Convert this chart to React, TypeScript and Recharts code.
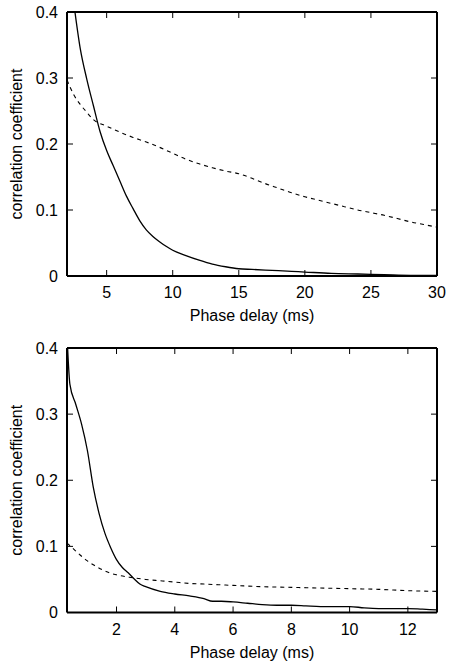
import { Line, LineChart, XAxis, YAxis } from 'recharts'

// upper panel: delays 2..30 ms
const upperSolidDelay = [2, 2.5, 3, 3.5, 4, 4.5, 5, 5.5, 6, 6.5, 7, 7.5, 8, 8.5, 9, 9.5, 10, 11, 12, 13, 14, 15, 16, 17, 18, 19, 20, 22, 24, 26, 28, 30]
const upperSolidCoef = [0.49, 0.415, 0.345, 0.298, 0.258, 0.219, 0.19, 0.167, 0.144, 0.121, 0.102, 0.084, 0.07, 0.06, 0.052, 0.045, 0.039, 0.031, 0.024, 0.018, 0.014, 0.011, 0.01, 0.009, 0.008, 0.007, 0.006, 0.004, 0.003, 0.002, 0.001, 0.001]
const upperDashedDelay = [2, 2.5, 3, 3.5, 4, 5, 6, 7, 8, 9, 10, 11, 12, 13, 14, 15, 16, 17, 18, 19, 20, 21, 22, 23, 24, 25, 26, 27, 28, 29, 30]
const upperDashedCoef = [0.297, 0.275, 0.26, 0.248, 0.237, 0.227, 0.218, 0.21, 0.203, 0.195, 0.186, 0.177, 0.17, 0.164, 0.159, 0.155, 0.148, 0.14, 0.133, 0.126, 0.12, 0.115, 0.11, 0.105, 0.1, 0.096, 0.092, 0.087, 0.082, 0.078, 0.074]
const upperTicks = [5, 10, 15, 20, 25, 30]

// lower panel: delays 0.3..13 ms
const lowerSolidDelay = [0.3, 0.4, 0.6, 0.8, 1, 1.2, 1.4, 1.6, 1.8, 2, 2.2, 2.4, 2.6, 2.8, 3, 3.5, 4, 4.5, 5, 5.3, 5.6, 6, 6.5, 7, 7.5, 8, 8.5, 9, 9.5, 10, 10.5, 11, 11.5, 12, 12.5, 13]
const lowerSolidCoef = [0.42, 0.345, 0.315, 0.285, 0.245, 0.19, 0.15, 0.12, 0.098, 0.08, 0.068, 0.06, 0.051, 0.043, 0.039, 0.032, 0.028, 0.025, 0.021, 0.017, 0.017, 0.016, 0.014, 0.012, 0.011, 0.011, 0.01, 0.009, 0.009, 0.009, 0.007, 0.006, 0.006, 0.006, 0.005, 0.004]
const lowerDashedDelay = [0.3, 0.5, 0.75, 1, 1.25, 1.5, 1.75, 2, 2.5, 3, 3.5, 4, 4.5, 5, 5.5, 6, 7, 8, 9, 10, 11, 12, 13]
const lowerDashedCoef = [0.105, 0.097, 0.087, 0.078, 0.071, 0.065, 0.06, 0.057, 0.053, 0.05, 0.048, 0.046, 0.044, 0.043, 0.042, 0.041, 0.039, 0.038, 0.037, 0.036, 0.035, 0.033, 0.032]
const lowerTicks = [2, 4, 6, 8, 10, 12]

const coefTicks = [0, 0.1, 0.2, 0.3, 0.4]

const font = '"Liberation Sans", Arial, sans-serif'

const zip = (xs: number[], ys: number[]) => xs.map((x, i) => ({ x, y: ys[i] }))

function YTitle(props: any) {
  const vb = props.viewBox
  const x = vb.x + 21.5
  const y = vb.y + vb.height / 2
  return (
    <text x={x} y={y} transform={`rotate(-90 ${x} ${y})`} textAnchor="middle" fontSize={16} fontFamily={font} fill="#000">
      correlation coefficient
    </text>
  )
}

interface PanelProps {
  solid: { x: number; y: number }[]
  dashed: { x: number; y: number }[]
  domain: [number, number]
  ticks: number[]
  top: number
  bottom: number
}

function Panel({ solid, dashed, domain, ticks, top, bottom }: PanelProps) {
  const axisLine = { stroke: '#000', strokeWidth: 2 }
  const tickLine = { stroke: '#000', strokeWidth: 1 }
  const tick = { fill: '#000', fontSize: 16, fontFamily: font }
  return (
    <LineChart width={450} height={332} margin={{ top, right: 12, bottom, left: 0 }}>
      <XAxis
        dataKey="x"
        type="number"
        domain={domain}
        ticks={ticks}
        allowDataOverflow
        height={50}
        axisLine={axisLine}
        tickLine={tickLine}
        tickSize={-6}
        tickMargin={17}
        tick={tick}
        label={{ value: 'Phase delay (ms)', position: 'insideBottom', offset: 5, fill: '#000', fontSize: 16, fontFamily: font }}
      />
      <XAxis
        xAxisId="top"
        orientation="top"
        dataKey="x"
        type="number"
        domain={domain}
        ticks={ticks}
        allowDataOverflow
        height={1}
        axisLine={axisLine}
        tickLine={tickLine}
        tickSize={-6}
        tickFormatter={() => ''}
      />
      <YAxis
        type="number"
        domain={[0, 0.4]}
        ticks={coefTicks}
        allowDataOverflow
        width={67}
        axisLine={axisLine}
        tickLine={tickLine}
        tickSize={-6}
        tickMargin={15}
        tick={tick}
        tickFormatter={(v: number) => (v === 0 ? '0' : String(v))}
        label={{ content: YTitle }}
      />
      <YAxis
        yAxisId="right"
        orientation="right"
        type="number"
        domain={[0, 0.4]}
        ticks={coefTicks}
        allowDataOverflow
        width={1}
        axisLine={axisLine}
        tickLine={tickLine}
        tickSize={-6}
        tickFormatter={() => ''}
      />
      <Line data={dashed} dataKey="y" type="monotone" stroke="#000" strokeWidth={1.1} strokeDasharray="4 4" dot={false} isAnimationActive={false} />
      <Line data={solid} dataKey="y" type="monotone" stroke="#000" strokeWidth={1.3} dot={false} isAnimationActive={false} />
    </LineChart>
  )
}

export default function App() {
  return (
    <div style={{ position: 'fixed', left: 0, top: 0, width: 450, height: 664, overflow: 'hidden', background: '#fff', fontFamily: font }}>
      <Panel
        solid={zip(upperSolidDelay, upperSolidCoef)}
        dashed={zip(upperDashedDelay, upperDashedCoef)}
        domain={[2, 30]}
        ticks={upperTicks}
        top={11}
        bottom={6}
      />
      <Panel
        solid={zip(lowerSolidDelay, lowerSolidCoef)}
        dashed={zip(lowerDashedDelay, lowerDashedCoef)}
        domain={[0.3, 13]}
        ticks={lowerTicks}
        top={15}
        bottom={1.5}
      />
    </div>
  )
}
